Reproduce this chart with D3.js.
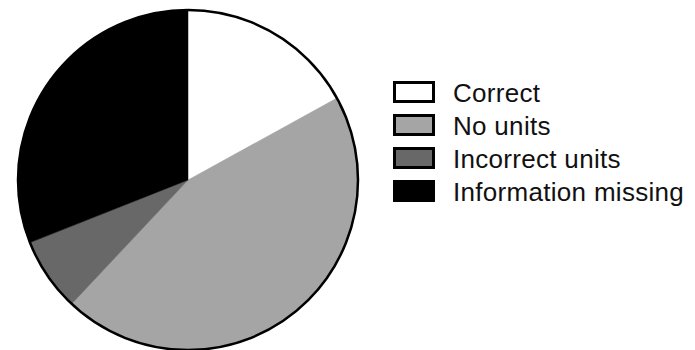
<!DOCTYPE html>
<html>
<head>
<meta charset="utf-8">
<script src="https://cdn.jsdelivr.net/npm/d3@7"></script>
<style>
  html, body { margin: 0; padding: 0; background: #fff; }
  svg { display: block; }
</style>
</head>
<body>
<svg id="chart" width="695" height="350"></svg>
<script>
// Share of answers by unit handling (percent)
const categories = ["Correct", "No units", "Incorrect units", "Information missing"];
const values = [17, 45, 7, 31];
const fills = ["#ffffff", "#a5a5a5", "#686868", "#000000"];

const svg = d3.select("#chart");
const cx = 188, cy = 180, radius = 170;

const pie = d3.pie().sort(null).value(d => d.value);
const arc = d3.arc().innerRadius(0).outerRadius(radius);
const color = d3.scaleOrdinal().domain(categories).range(fills);

const data = categories.map((c, i) => ({ name: c, value: values[i] }));

const g = svg.append("g").attr("transform", `translate(${cx},${cy})`);

g.selectAll("path.slice")
  .data(pie(data))
  .join("path")
  .attr("class", "slice")
  .attr("d", arc)
  .attr("fill", d => color(d.data.name))
  .attr("stroke", d => color(d.data.name))
  .attr("stroke-width", 0.5);

// outer rim
g.append("circle")
  .attr("r", radius)
  .attr("fill", "none")
  .attr("stroke", "#000")
  .attr("stroke-width", 2.5);

// legend
const legendY = d3.scalePoint().domain(categories).range([92, 191]);
const legend = svg.append("g");

const rows = legend.selectAll("g.row")
  .data(categories)
  .join("g")
  .attr("class", "row")
  .attr("transform", d => `translate(0,${legendY(d)})`);

rows.append("rect")
  .attr("x", 394.5)
  .attr("y", -9.5)
  .attr("width", 39)
  .attr("height", 19)
  .attr("fill", d => color(d))
  .attr("stroke", "#000")
  .attr("stroke-width", 3);

rows.append("text")
  .attr("x", 453)
  .attr("y", 10)
  .attr("font-family", "'Liberation Sans', Arial, Helvetica, sans-serif")
  .attr("font-size", 26)
  .attr("letter-spacing", 0.3)
  .attr("fill", "#111")
  .text(d => d);
</script>
</body>
</html>
